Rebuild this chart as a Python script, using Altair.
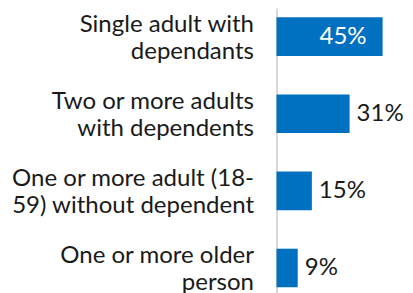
import altair as alt
import pandas as pd

categories = [
    "Single adult with|dependants",
    "Two or more adults|with dependents",
    "One or more adult (18-|59) without dependent",
    "One or more older|person",
]
values = [45, 31, 15, 9]

df = pd.DataFrame({"category": categories, "value": values})
df["label"] = df["value"].astype(str) + "%"

FONT = "Lato"
BLUE = "#0070C0"

y_enc = alt.Y(
    "category:N",
    sort=categories,
    scale=alt.Scale(paddingInner=0.5, paddingOuter=0.098, align=0.62),
    axis=alt.Axis(
        title=None,
        ticks=False,
        domain=True,
        domainColor="#d9d9d9",
        domainWidth=2,
        labelExpr="split(datum.label, '|')",
        labelFont=FONT,
        labelFontSize=24,
        labelColor="#1a1a1a",
        labelLineHeight=27.5,
        labelPadding=23,
        labelOffset=-12,
        labelAlign="right",
        labelBaseline="middle",
        labelLimit=400,
    ),
)
x_enc = alt.X(
    "value:Q",
    scale=alt.Scale(domain=[0, 54.5]),
    axis=None,
)

base = alt.Chart(df).encode(y=y_enc, x=x_enc)

bars = base.mark_bar(color=BLUE)

inside = base.transform_filter("datum.value >= 40").mark_text(
    align="right", baseline="middle", dx=-16, font=FONT, fontSize=24, color="white"
).encode(text="label:N")

outside = base.transform_filter("datum.value < 40").mark_text(
    align="left", baseline="middle", dx=7, font=FONT, fontSize=24, color="#1a1a1a"
).encode(text="label:N")

chart = (
    alt.layer(bars, inside, outside)
    .properties(
        width=128.5,
        height=285,
        padding={"left": 268.5, "top": 0, "right": 0, "bottom": 0},
        autosize="none",
    )
    .configure_view(stroke=None)
)

chart.save("out.html", embed_options={"renderer": "svg", "actions": False})
